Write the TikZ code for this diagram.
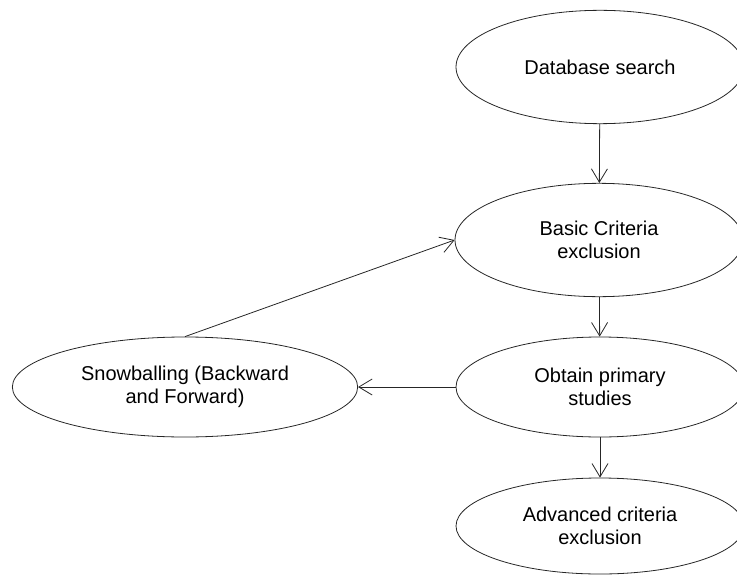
\documentclass[tikz,border=0pt]{standalone}
\usepackage{fontspec}
\setmainfont{Liberation Sans}
\usetikzlibrary{shapes.geometric,arrows.meta}
\begin{document}
\begin{tikzpicture}[x=0.75pt,y=-0.75pt,
        stage/.style={draw=black!85, line width=0.6pt, ellipse, align=center, inner sep=0pt,
            font=\fontsize{15}{17.5}\selectfont},
        flow/.style={draw=black!85, line width=0.6pt, -{Straight Barb[length=10pt,width=12pt]}}]
        \useasboundingbox (0,0) rectangle (737,574);
        \clip (0,0) rectangle (737,574);

        \node[stage, minimum width=216pt, minimum height=85pt] (db) at (600,67) {Database search};
        \node[stage, minimum width=216pt, minimum height=85pt] (basic) at (599,240) {Basic Criteria\\exclusion};
        \node[stage, minimum width=216pt, minimum height=75pt] (obtain) at (600,387) {Obtain primary\\studies};
        \node[stage, minimum width=259pt, minimum height=75pt] (snow) at (185,387) {Snowballing (Backward\\and Forward)};
        \node[stage, minimum width=216pt, minimum height=72pt] (adv) at (600,526) {Advanced criteria\\exclusion};

        \draw[flow] (db) -- (basic);
        \draw[flow] (basic) -- (obtain);
        \draw[flow] (obtain.west) -- (snow.east);
        \draw[flow] (snow.north) -- (basic.west);
        \draw[flow] (obtain) -- (adv);
    \end{tikzpicture}
\end{document}
